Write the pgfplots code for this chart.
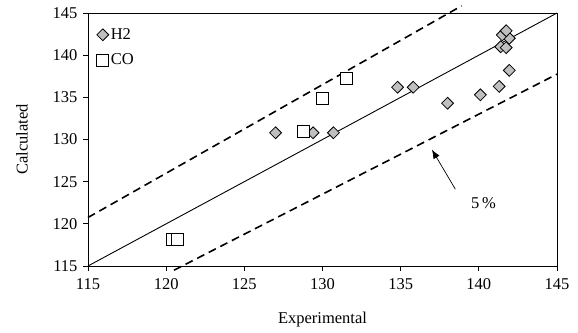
\documentclass[border=0pt]{standalone}
\usepackage{pgfplots}
\pgfplotsset{compat=1.18}
\usetikzlibrary{arrows.meta}
\usepackage{fontspec}
\setmainfont{Liberation Serif}
\newcommand{\chartfont}{\fontsize{16.5}{18}\selectfont}
\begin{document}
\begin{tikzpicture}
\begin{axis}[
  scale only axis, width=469pt, height=253pt,
  xmin=115, xmax=145, ymin=115, ymax=145,
  xtick={115,120,...,145}, ytick={115,120,...,145},
  tick align=outside, xtick pos=bottom, ytick pos=left,
  major tick length=5pt,
  tick style={black, line width=0.8pt},
  axis line style={line width=0.8pt},
  /pgf/number format/assume math mode=true,
  /pgf/number format/1000 sep={},
  ticklabel style={font=\chartfont},
  xticklabel style={yshift=-4pt},
  yticklabel style={xshift=-2pt},
  xlabel={Experimental}, ylabel={Calculated},
  label style={font=\chartfont},
  xlabel style={at={(axis description cs:0.5,-0.21)}, anchor=center},
  ylabel style={at={(axis description cs:-0.1407,0.5)}, anchor=center},
  clip=false,
  legend style={draw=none, fill=none, at={(0.012,0.955)}, anchor=north west,
    font=\chartfont, row sep=9pt},
  legend cell align=left,
]
\addplot[black, line width=0.9pt, forget plot] coordinates {(115,115) (145,145)};
\addplot[black, line width=1.6pt, dash pattern=on 8pt off 5pt, forget plot] coordinates {(115,120.75) (138.9,145.85)};
\addplot[black, line width=1.6pt, dash pattern=on 8pt off 5pt, forget plot] coordinates {(120.5,114.5) (145,137.75)};
\addplot[only marks, mark=square*, mark size=4.2pt, mark options={rotate=45, fill=black!25, draw=black, line width=0.8pt}] coordinates {
(127.0,130.8) (129.4,130.8) (130.7,130.8)
(134.8,136.2) (135.8,136.2)
(138.0,134.3) (140.1,135.3) (141.3,136.3) (141.95,138.2)
(141.4,141.0) (141.75,140.9) (141.95,142.0) (141.5,142.4) (141.75,142.9)
};
\addlegendentry{H2}
\addplot[only marks, mark=square*, mark size=6pt, mark options={fill=white, draw=black, line width=0.8pt}] coordinates {
(120.4,118.2) (120.7,118.2) (128.8,131.0) (130.0,134.9) (131.5,137.3)
};
\addlegendentry{CO}
\draw[-{Latex[length=9pt,width=7pt]}, black, line width=0.7pt] (axis cs:138.5,124.1) -- (axis cs:137.0,128.8);
\node[font=\chartfont] at (axis cs:140.3,122.5) {5\,\%};
\end{axis}
\pgfresetboundingbox
\path ([xshift=-88pt,yshift=-66pt]current axis.south west) rectangle ([xshift=21pt,yshift=13pt]current axis.north east);
\end{tikzpicture}
\end{document}
